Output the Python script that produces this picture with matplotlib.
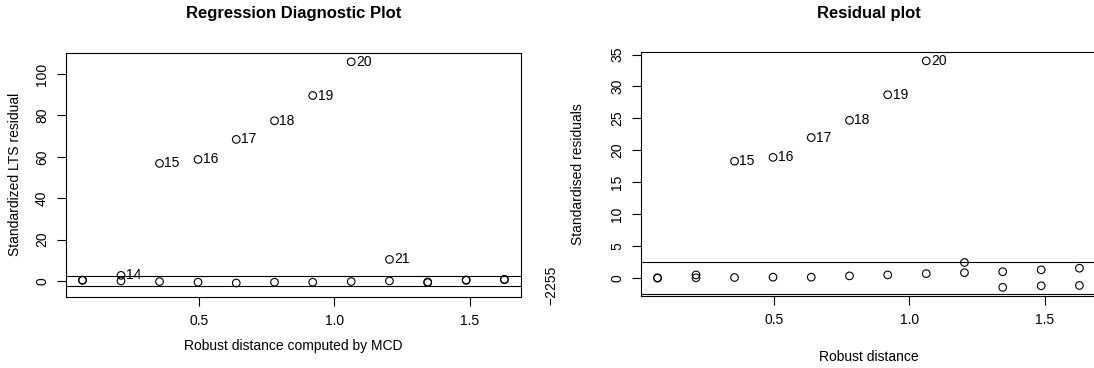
import matplotlib
matplotlib.use("Agg")
import matplotlib.pyplot as plt

plt.rcParams["font.family"] = ["Liberation Sans", "DejaVu Sans"]
plt.rcParams["font.size"] = 10

# robust distances (two observations at each distance)
dist = [0.071, 0.071, 0.213, 0.213, 0.355, 0.355, 0.497, 0.497,
        0.638, 0.638, 0.779, 0.779, 0.920, 0.920, 1.062, 1.062,
        1.203, 1.203, 1.344, 1.344, 1.486, 1.486, 1.627, 1.627]

# standardized LTS residuals
lts_res = [0.3, 0.4, 2.7, 0.0, 56.8, -0.3, 58.7, -0.6,
           68.4, -1.0, 77.4, -0.6, 89.6, -0.6, 105.9, -0.3,
           10.4, 0.0, -0.5, -0.8, 0.3, 0.5, 0.6, 0.8]
lts_lab = ["", "", "14", "", "15", "", "16", "",
           "17", "", "18", "", "19", "", "20", "",
           "21", "", "", "", "", "", "", ""]

# standardised residuals of the second fit
std_res = [0.0, 0.05, 0.5, 0.05, 18.3, 0.1, 18.9, 0.15,
           22.0, 0.15, 24.7, 0.35, 28.7, 0.5, 34.0, 0.7,
           2.45, 0.85, 1.0, -1.45, 1.3, -1.2, 1.55, -1.15]
std_lab = ["", "", "", "", "15", "", "16", "",
           "17", "", "18", "", "19", "", "20", "",
           "", "", "", "", "", "", "", ""]

cutoff = 2.5

fig = plt.figure(figsize=(10.94, 3.68), dpi=100)
ax1 = fig.add_axes([0.0603, 0.1938, 0.4159, 0.663])
ax2 = fig.add_axes([0.5859, 0.1965, 0.4159, 0.6614])


def r_style(ax):
    for s in ax.spines.values():
        s.set_linewidth(0.8)
    ax.tick_params(direction="out", length=6.2, width=0.8, pad=6, labelsize=10)
    ax.tick_params(axis="y", labelrotation=90)
    for t in ax.get_yticklabels():
        t.set_va("center")


def diag(ax, y, labels, ylim, yticks, title, xlab, ylab, xl_y, yl_x):
    ax.scatter(dist, y, s=30, facecolors="none", edgecolors="black", linewidths=0.8, zorder=3)
    for xi, yi, lab in zip(dist, y, labels):
        if lab:
            ax.annotate(lab, (xi, yi), xytext=(3.5, 0), textcoords="offset points",
                        ha="left", va="center", fontsize=10)
    ax.axhline(cutoff, color="black", lw=0.8)
    ax.axhline(-cutoff, color="black", lw=0.8)
    ax.set_xlim(0.01, 1.688)
    ax.set_ylim(*ylim)
    ax.set_xticks([0.5, 1.0, 1.5])
    ax.set_xticklabels(["0.5", "1.0", "1.5"])
    ax.set_yticks(yticks)
    r_style(ax)
    ax.set_xlabel(xlab, fontsize=10)
    ax.xaxis.set_label_coords(0.5, xl_y)
    ax.xaxis.label.set_va("center")
    ax.set_ylabel(ylab, fontsize=10)
    ax.yaxis.set_label_coords(yl_x, 0.5)
    ax.yaxis.label.set_va("center")
    ax.text(0.5, 1.16, title, transform=ax.transAxes, ha="center", va="center",
            fontsize=12, fontweight="bold")


diag(ax1, lts_res, lts_lab, (-7.6, 110.3), [0, 20, 40, 60, 80, 100],
     "Regression Diagnostic Plot", "Robust distance computed by MCD",
     "Standardized LTS residual", -0.202, -0.113)
diag(ax2, std_res, std_lab, (-2.75, 35.35), [0, 5, 10, 15, 20, 25, 30, 35],
     "Residual plot", "Robust distance", "Standardised residuals", -0.252, -0.138)

# cutoff labels printed on top of each other beside the first panel
fig.text(551 / 1094, 1 - 285 / 368, "\u22122255", rotation=90, ha="center", va="center", fontsize=10)

fig.savefig("out.png", dpi=100)
